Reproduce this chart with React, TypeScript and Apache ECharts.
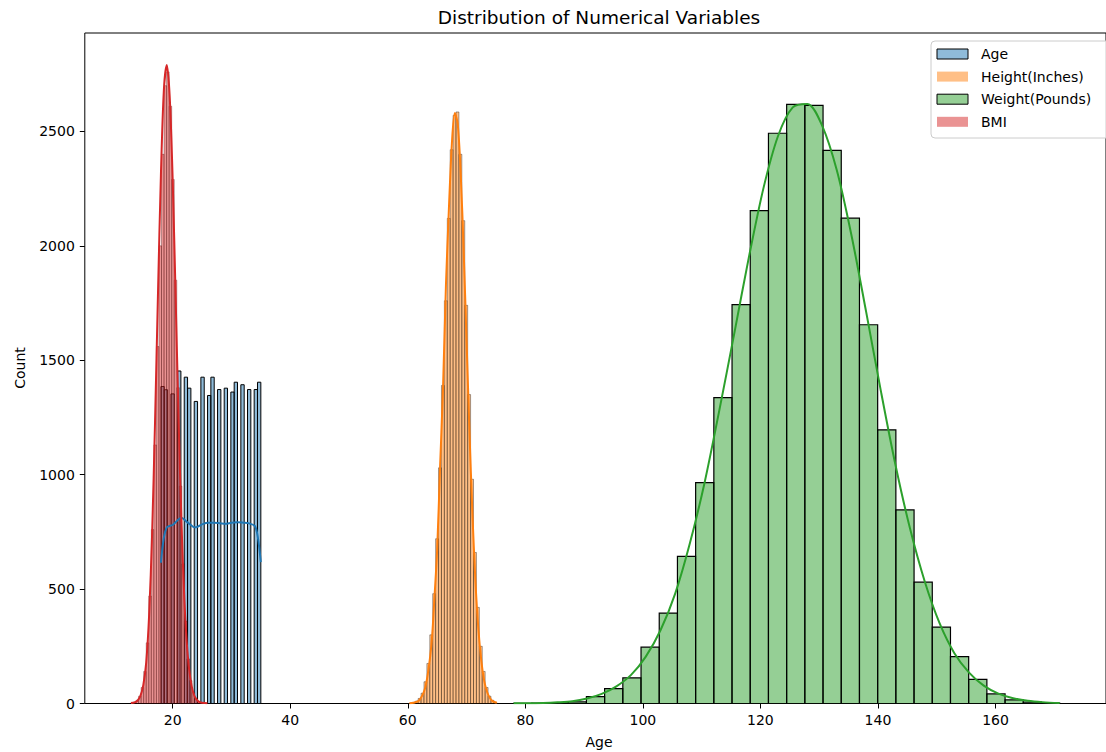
import React, { useEffect, useRef } from "react";
import * as echarts from "echarts";

// ---------- text ----------
const chartTitle = "Distribution of Numerical Variables";
const xAxisTitle = "Age";
const yAxisTitle = "Count";
const legendNames = ["Age", "Height(Inches)", "Weight(Pounds)", "BMI"];

// ---------- axes ----------
const xTicks = [20, 40, 60, 80, 100, 120, 140, 160];
const yTicks = [0, 500, 1000, 1500, 2000, 2500];
const xMin = 5.05;
const xMax = 178.8;
const yMin = 0;
const yMax = 2930;

// ---------- histograms (30 bins each, between min and max) ----------
const ageRange = [18, 35];
const ageCounts = [
  1385, 1371, 0, 1353, 0, 1453, 0, 1426, 1378, 0, 1320, 0, 1426, 0, 1346,
  1426, 0, 1372, 0, 1378, 0, 1361, 1404, 0, 1393, 0, 1372, 0, 1372, 1404,
];

const heightRange = [60.28, 75.15];
const heightCounts = [
  2, 5, 10, 22, 45, 95, 175, 300, 480, 720, 1030, 1390, 1760, 2120, 2420,
  2570, 2585, 2400, 2110, 1740, 1350, 980, 660, 420, 250, 140, 70, 32, 14, 5,
];

const weightRange = [78.01, 170.92];
const weightCounts = [
  1, 2, 3, 7, 30, 65, 112, 246, 395, 643, 965, 1337, 1743, 2154, 2492, 2618,
  2614, 2417, 2121, 1655, 1196, 846, 530, 334, 205, 105, 42, 16, 6, 2,
];

const bmiRange = [12.9, 25.9];
const bmiCounts = [
  3, 6, 14, 32, 70, 140, 265, 470, 760, 1130, 1560, 2000, 2400, 2700, 2760,
  2610, 2290, 1850, 1380, 950, 610, 360, 195, 100, 48, 22, 10, 4, 2, 1,
];

// ---------- KDE curves (x, count-scaled density) ----------
const ageKde = [
  [18, 615], [18.5, 725], [19, 770], [19.5, 776], [20, 780], [20.5, 792],
  [21, 805], [21.5, 812], [22, 803], [22.5, 792], [23, 782], [23.5, 772],
  [24, 770], [24.5, 776], [25, 783], [26, 790], [27, 790], [28, 788],
  [29, 785], [30, 790], [31, 792], [32, 790], [33, 787], [34, 775],
  [34.5, 725], [35, 618],
];
const heightKde = [
  [60.28, 1], [61, 3], [62, 15], [63, 71], [64, 250], [64.5, 446], [65, 672],
  [65.5, 1035], [66, 1380], [66.5, 1831], [67, 2163], [67.5, 2444],
  [68, 2580], [68.5, 2533], [69, 2320], [69.5, 1986], [70, 1587],
  [70.5, 1186], [71, 829], [71.5, 540], [72, 330], [72.5, 190], [73, 100],
  [73.5, 50], [74, 23], [74.5, 9], [75.15, 3],
];
const weightKde = [
  [78.01, 1], [80.5, 1], [83, 2], [85.5, 5], [88, 10], [90.5, 22],
  [93, 42], [95.5, 75], [98, 125], [100.5, 205], [103, 320], [105.5, 480],
  [108, 700], [110.5, 965], [113, 1280], [115.5, 1610], [118, 1945],
  [120.5, 2250], [123, 2480], [125.5, 2605], [128, 2620], [130.5, 2525],
  [133, 2330], [135.5, 2045], [138, 1710], [140.5, 1365], [143, 1040],
  [145.5, 760], [148, 530], [150.5, 350], [153, 220], [155.5, 135],
  [158, 78], [160.5, 43], [163, 23], [165.5, 12], [168, 6], [170.92, 2],
];
const bmiKde = [
  [12.9, 2], [13.5, 5], [14, 12], [14.5, 32], [15, 80], [15.5, 180],
  [16, 390], [16.5, 740], [17, 1230], [17.5, 1790], [18, 2310],
  [18.5, 2680], [19, 2790], [19.5, 2650], [20, 2290], [20.5, 1780],
  [21, 1250], [21.5, 790], [22, 450], [22.5, 230], [23, 110], [23.5, 48],
  [24, 19], [24.5, 7], [25, 3], [25.9, 1],
];

const FONT = "DejaVu Sans";

function binsOf(range: number[], counts: number[]) {
  const n = counts.length;
  const w = (range[1] - range[0]) / n;
  const out: number[][] = [];
  counts.forEach((c, i) => {
    if (c > 0) out.push([range[0] + i * w, range[0] + (i + 1) * w, c]);
  });
  return out;
}

function histSeries(
  name: string,
  range: number[],
  counts: number[],
  fill: string,
  stroke: string,
  lw: number
) {
  return {
    type: "custom",
    name,
    data: binsOf(range, counts),
    encode: { x: [0, 1], y: 2 },
    clip: true,
    renderItem: (params: any, api: any) => {
      const p0 = api.coord([api.value(0), api.value(2)]);
      const p1 = api.coord([api.value(1), 0]);
      return {
        type: "rect",
        shape: { x: p0[0], y: p0[1], width: p1[0] - p0[0], height: p1[1] - p0[1] },
        style: { fill, stroke, lineWidth: lw },
      };
    },
  };
}

function kdeSeries(name: string, data: number[][], color: string) {
  return {
    type: "line",
    name: name + " kde",
    data,
    smooth: 0.3,
    showSymbol: false,
    symbol: "none",
    lineStyle: { color, width: 2 },
    itemStyle: { color },
  };
}

export default function App() {
  const ref = useRef<HTMLDivElement>(null);

  useEffect(() => {
    if (!ref.current) return;
    const chart = echarts.init(ref.current, undefined, { renderer: "svg" });

    const legendColors = [
      { fill: "#8fbbd9", stroke: "#000000", lw: 1 },
      { fill: "#ffbf86", stroke: "#ffbf86", lw: 0 },
      { fill: "#95cf95", stroke: "#000000", lw: 1 },
      { fill: "#ea9393", stroke: "#ea9393", lw: 0 },
    ];
    const legendItems: any[] = [];
    legendNames.forEach((nm, i) => {
      const cy = 54 + i * 22.6;
      legendItems.push({
        type: "rect",
        z: 102,
        shape: { x: 937, y: cy - 5, width: 31, height: 10 },
        style: {
          fill: legendColors[i].fill,
          stroke: legendColors[i].lw ? legendColors[i].stroke : null,
          lineWidth: legendColors[i].lw,
        },
      });
      legendItems.push({
        type: "text",
        z: 102,
        x: 981,
        y: cy,
        style: {
          text: nm,
          fontFamily: FONT,
          fontSize: 14,
          fill: "#000",
          textAlign: "left",
          textVerticalAlign: "middle",
        },
      });
    });

    chart.setOption({
      animation: false,
      backgroundColor: "#ffffff",
      grid: {
        left: 84.8,
        right: -7.4,
        top: 33,
        bottom: 48.5,
        show: true,
        borderColor: "#000",
        borderWidth: 1,
        backgroundColor: "transparent",
      },
      xAxis: {
        type: "value",
        min: xMin,
        max: xMax,
        splitLine: { show: false },
        axisLine: { show: false },
        axisTick: {
          show: true,
          customValues: xTicks,
          length: 5,
          lineStyle: { color: "#000", width: 1 },
        },
        axisLabel: {
          customValues: xTicks,
          formatter: (v: number) => String(v),
          fontFamily: FONT,
          fontSize: 14,
          color: "#000",
          margin: 9,
        },
      },
      yAxis: {
        type: "value",
        min: yMin,
        max: yMax,
        splitLine: { show: false },
        axisLine: { show: false },
        axisTick: {
          show: true,
          customValues: yTicks,
          length: 5,
          lineStyle: { color: "#000", width: 1 },
        },
        axisLabel: {
          customValues: yTicks,
          formatter: (v: number) => String(v),
          fontFamily: FONT,
          fontSize: 14,
          color: "#000",
          margin: 10,
        },
      },
      series: [
        histSeries(legendNames[0], ageRange, ageCounts, "rgba(31,119,180,0.5)", "#000", 1),
        kdeSeries(legendNames[0], ageKde, "#1f77b4"),
        histSeries(legendNames[1], heightRange, heightCounts, "rgba(255,127,14,0.5)", "rgba(0,0,0,0.6)", 0.6),
        kdeSeries(legendNames[1], heightKde, "#ff7f0e"),
        histSeries(legendNames[2], weightRange, weightCounts, "rgba(44,160,44,0.5)", "#000", 1.2),
        kdeSeries(legendNames[2], weightKde, "#2ca02c"),
        histSeries(legendNames[3], bmiRange, bmiCounts, "rgba(214,39,40,0.5)", "rgba(60,0,0,0.55)", 0.6),
        kdeSeries(legendNames[3], bmiKde, "#d62728"),
      ],
      graphic: [
        {
          type: "text",
          x: 599,
          y: 17,
          style: {
            text: chartTitle,
            fontFamily: FONT,
            fontSize: 18.5,
            fill: "#000",
            textAlign: "center",
            textVerticalAlign: "middle",
          },
        },
        {
          type: "text",
          x: 599,
          y: 742,
          style: {
            text: xAxisTitle,
            fontFamily: FONT,
            fontSize: 14,
            fill: "#000",
            textAlign: "center",
            textVerticalAlign: "middle",
          },
        },
        {
          type: "text",
          x: 20,
          y: 368,
          rotation: Math.PI / 2,
          style: {
            text: yAxisTitle,
            fontFamily: FONT,
            fontSize: 14,
            fill: "#000",
            textAlign: "center",
            textVerticalAlign: "middle",
          },
        },
        {
          type: "rect",
          z: 100,
          shape: { x: 931, y: 41, width: 185, height: 97, r: 4 },
          style: { fill: "rgba(255,255,255,0.8)", stroke: "#cccccc", lineWidth: 1 },
        },
        ...legendItems,
      ],
    });

    return () => chart.dispose();
  }, []);

  return (
    <div
      ref={ref}
      style={{ position: "absolute", left: 0, top: 0, width: 1106, height: 752 }}
    />
  );
}
